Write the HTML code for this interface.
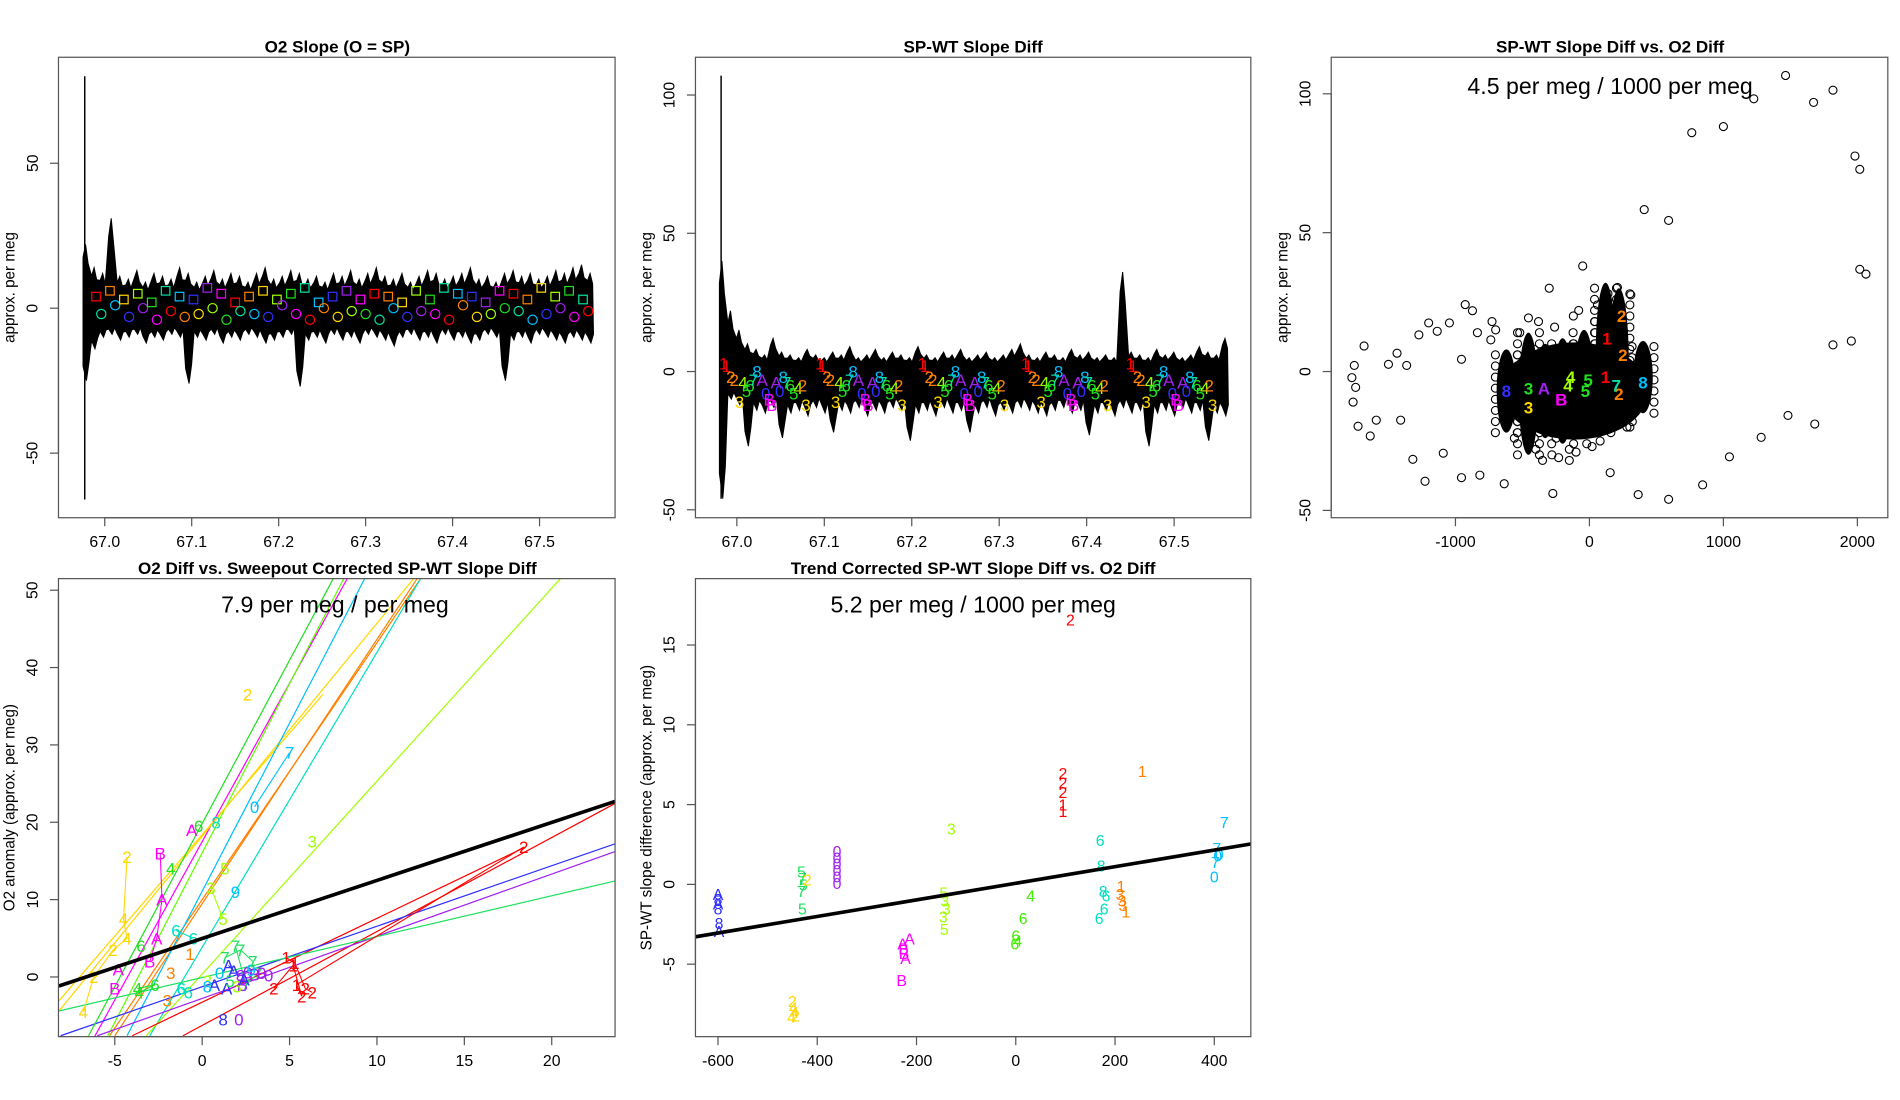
<!DOCTYPE html>
<html><head><meta charset="utf-8"><title>O2 slope diagnostics</title>
<style>
html,body{margin:0;padding:0;background:#fff;}
svg{display:block;font-family:"Liberation Sans",Arial,sans-serif;}
</style></head>
<body>
<svg id="fig" width="1900" height="1100" viewBox="0 0 1560 903" preserveAspectRatio="none" xmlns="http://www.w3.org/2000/svg">
<defs>
<clipPath id="c1"><rect x="48" y="47" width="457" height="378"/></clipPath>
<clipPath id="c2"><rect x="571" y="47" width="456" height="378"/></clipPath>
<clipPath id="c3"><rect x="1093" y="47" width="457" height="378"/></clipPath>
<clipPath id="c4"><rect x="48" y="475" width="457" height="376"/></clipPath>
<clipPath id="c5"><rect x="571" y="475" width="456" height="376"/></clipPath>
</defs>
</svg>
<script>
// ---------- data ----------
const rainbow = ['#ff0000','#ff8000','#ffd700','#a0ff00','#20e020','#00e0a0','#00c0ff','#3030ff','#a020f0','#ff00ff'];
const p1Upper = [22,14,12,31,11,10,13,9,12,11,10,14,12,9,11,13,10,12,11,9,12,14,10,11,13,12,10,11,9,12,11,13,10,12,14,11,10,12,9,11,13,12,10,11,12,14,10,11,9,12,13,11,12,10,11,13,12,14,15,12];
const p1Lower = [-25,-14,-10,-9,-11,-10,-9,-12,-10,-11,-9,-10,-26,-10,-11,-9,-12,-10,-11,-9,-10,-12,-11,-10,-9,-27,-11,-10,-12,-9,-11,-10,-12,-9,-10,-11,-13,-10,-9,-11,-10,-12,-9,-11,-10,-12,-11,-9,-10,-25,-11,-10,-12,-9,-10,-11,-12,-10,-11,-12];
const p1Spike = [80,-66];
const markT = [66.99,67.006,67.022,67.038,67.054,67.07,67.086,67.102,67.118,67.134,67.15,67.166,67.182,67.198,67.214,67.23,67.246,67.262,67.278,67.294,67.31,67.326,67.342,67.358,67.374,67.39,67.406,67.422,67.438,67.454,67.47,67.486,67.502,67.518,67.534,67.55];
const sqV = [4,6,3,5,2,6,4,3,7,5,2,4,6,3,5,7,2,4,6,3,5,4,2,6,3,7,5,4,2,6,5,3,7,4,6,3];
const circV = [-2,1,-3,0,-4,-1,-3,-2,0,-4,-1,-2,-3,1,-2,-4,0,-3,-1,-2,-4,0,-3,-1,-2,-4,1,-3,-2,0,-1,-4,-2,0,-3,-1];
const p2Upper = [40,22,15,10,8,6,12,7,6,5,8,6,5,7,6,9,5,6,8,5,7,6,5,9,6,5,7,6,8,5,6,7,5,6,8,10,6,5,7,6,5,8,6,7,5,6,5,36,7,6,5,8,6,7,5,6,9,7,6,12];
const p2Lower = [-46,-10,-12,-27,-14,-15,-13,-24,-15,-14,-16,-13,-15,-22,-14,-15,-13,-16,-14,-15,-13,-14,-25,-15,-14,-16,-13,-15,-14,-22,-15,-13,-16,-14,-15,-13,-14,-15,-16,-14,-13,-15,-14,-23,-15,-14,-16,-13,-15,-14,-27,-15,-14,-16,-13,-15,-14,-25,-15,-16];
const p2Spike = [107,-46];
const cycStart = [66.985,67.095,67.212,67.33,67.45];
const cycOff = [0.0,0.003,0.008,0.012,0.018,0.022,0.026,0.030,0.034,0.038,0.044,0.048,0.052,0.055,0.060,0.064,0.068,0.072,0.076,0.080,0.085,0.090,0.094];
const cycV = [3,2,-2,-3,-11,-4,-7,-5,-3,0,-3,-8,-10,-12,-4,-7,-2,-4,-5,-8,-6,-5,-12];
const cycTxt = ['1','1','2','2','3','4','5','6','7','8','A','0','B','B','A','0','8','7','6','5','4','2','3'];
const cycCol = [0,0,1,1,2,3,4,4,5,6,8,7,9,9,8,7,6,5,4,4,3,1,2];
const outX = [1464,1818,1673,1227,1000,764,1982,2018,409,591,209,309,-927,-873,-727,-836,-736,-455,-955,-1273,-1436,-1500,-1364,-1200,-1136,-1045,-1682,-1755,-1773,-1745,-1764,-1727,-1591,-1409,-1636,-1318,-1091,-1227,-955,-818,-636,-273,155,364,591,845,1045,1282,1482,1682,1818,1955,2018,2064,-300,-50,100,-700,-150];
const outY = [106.6,101.3,96.9,98.2,88.2,86,77.6,72.8,58.3,54.4,30.3,27.6,24.1,21.9,18,14,11.4,19.3,4.4,13.2,6.6,2.6,2.2,17.5,14.5,17.5,9.2,2.2,-2.2,-5.7,-11,-19.7,-17.5,-17.5,-23.2,-31.6,-29.4,-39.5,-38.2,-37.3,-40.4,-43.9,-36.4,-44.3,-46,-40.8,-30.7,-23.7,-15.8,-18.9,9.6,11,36.8,35.1,30,38,20,15,-32];
const colX = [-620,-455,-330,-200,-40,120,220,400];
const colLo = [-22,-30,-24,-26,-22,-18,-20,-15];
const colHi = [8,14,10,12,15,32,30,11];
const haloX = [-520,-380,-260,-120,-80,40,60,-560,-400,-280,-150,-20,80,160,280,-350,-230,-100,20,320];
const haloY = [14,18,16,20,22,18,24,-24,-28,-30,-28,-26,-25,-22,-20,-32,-31,-29,-27,-18];
const p3LabX = [-620,-455,-455,-340,-210,-160,-140,-30,-10,120,130,220,200,250,240,400];
const p3LabY = [-7,-6,-13,-6,-10,-5,-2,-7,-3,-2,12,-8,-5,6,20,-4];
const p3LabTxt = ['8','3','3','A','B','4','4','5','5','1','1','2','7','2','2','8'];
const p3LabCol = ['#3030ff','#20e020','#ffd700','#a020f0','#ff00ff','#a0ff00','#a0ff00','#20e020','#20e020','#ff0000','#ff0000','#ff8000','#00e0a0','#ff8000','#ff8000','#00c0ff'];
const l4X1 = [-6.3,-5.4,-8.2,-8.2,-5.3,-5.0,-4.3,-3.0,-3.2,-1.1,-4.0,-8.1,-6.0,-8.2,-6.5];
const l4Y1 = [-8.3,-7.6,-4.4,-3.1,-7.6,-7.6,-7.6,-7.6,-7.6,-7.6,-7.6,-7.6,-7.6,-4.4,-7.6];
const l4X2 = [8.3,8.1,12.1,6.9,12.5,12.3,9.3,12.5,20.5,23.6,18.5,23.6,23.6,23.6,7.5];
const l4Y2 = [51.5,51.5,51.5,36.5,51.5,51.5,51.5,51.5,51.5,22.4,16.8,17.2,16.2,12.4,51.5];
const l4Col = ['#ff00ff','#60ff00','#ffd700','#ffd700','#ff8000','#ff8000','#00c0ff','#00e0c0','#a0ff00','#ff0000','#ff0000','#3030ff','#a020f0','#20e060','#20e020'];
const lab4X = [-4.3,-4.5,-4.3,-5.1,-6.2,-6.8,-3.5,-3.0,-2.6,-2.3,-2.4,-1.8,-0.6,-0.2,0.8,1.3,1.9,2.6,3.0,5.0,4.1,5.2,5.7,5.4,18.4,6.3,-1.8,-3.7,-2.7,-3.6,-4.8,-1.5,-0.5,0.5,1.2,1.9,2.5,3.2,1.0,0.3,-1.2,-0.7,1.4,2.3,0.7,-2.0,1.2,2.1,-5.0,1.5,1.8,2.2,2.6,3.0,3.4,3.8,1.6,2.0,2.4,2.8,1.3,2.2,2.9,4.8,5.3,5.9,6.3,-1.2,-0.8,0.3];
const lab4Y = [15.5,7.5,5,3.5,0,-4.5,4.0,2.0,5.0,10.0,16.0,14.0,19.0,19.5,20.0,14.0,11.0,36.5,22.0,29.0,-1.5,1.5,-2.5,-1.0,16.8,17.5,0.5,-1.5,-1.0,-2.0,1.0,6.0,5.0,11.5,7.5,4.0,-1.0,0.5,0.5,-0.5,-1.5,3.0,-1.5,-1.0,-1.0,-3.0,-5.5,-5.5,-1.5,1.5,0.8,0.2,0.6,0.3,0.5,0.2,-0.5,-1.2,-0.3,0.9,2.5,3.5,2.0,2.5,1.8,-1.5,-2.0,-1.5,-2.0,-1.2];
const lab4Txt = ['2','4','4','2','2','4','6','B','A','A','B','4','A','6','8','5','9','2','0','7','2','1','2','1','2','3','3','4','6','4','A','6','6','3','5','7','7','7','0','3','6','1','A','B','A','3','8','0','B','A','A','8','0','B','0','0','5','3','A','9','7','7','7','1','1','2','2','6','6','8'];
const lab4Col = ['#ffd700','#ffd700','#ffd700','#ffd700','#ffd700','#ffd700','#20e020','#ff00ff','#ff00ff','#ff00ff','#ff00ff','#20e020','#ff00ff','#20e020','#00e0c0','#a0ff00','#00c0ff','#ffd700','#00c0ff','#00c0ff','#ff0000','#ff0000','#ff0000','#ff0000','#ff0000','#a0ff00','#ff8000','#20e020','#20e020','#20e020','#ff00ff','#00e0c0','#00e0c0','#a0ff00','#a0ff00','#20e060','#20e060','#20e060','#00c0ff','#a0ff00','#00e0c0','#ff8000','#3030ff','#a020f0','#3030ff','#ff8000','#3030ff','#a020f0','#ff00ff','#3030ff','#3030ff','#a020f0','#a020f0','#a020f0','#a020f0','#a020f0','#20e060','#a0ff00','#3030ff','#00c0ff','#20e060','#20e060','#20e060','#ff0000','#ff0000','#ff0000','#ff0000','#00e0c0','#00e0c0','#00c0ff'];
const fit4 = [0.75, 4.98];
const p5X = [-600,-600,-600,-600,-598,-598,-450,-448,-446,-452,-444,-432,-430,-428,-432,-430,-420,-360,-360,-360,-360,-360,-360,-228,-225,-222,-230,-226,-214,-145,-143,-140,-146,-144,-130,0,4,-2,15,30,95,95,95,95,95,110,255,212,210,214,216,222,170,172,176,182,178,168,405,407,402,400,420,410];
const p5Y = [-0.6,-0.9,-1.2,-1.5,-2.4,-2.9,-7.3,-7.7,-8.0,-8.3,-8.2,0.8,0.4,0.0,-0.4,-1.5,0.3,2.1,1.7,1.3,0.9,0.5,0.1,-3.7,-4.3,-4.6,-6.0,-4.0,-3.4,-0.5,-1.0,-1.5,-2.0,-2.8,3.5,-3.2,-3.5,-3.7,-2.1,-0.7,7.0,6.4,5.8,5.0,4.6,16.6,7.1,-0.1,-0.6,-1.0,-1.3,-1.7,2.8,1.2,-0.4,-0.7,-1.5,-2.1,2.3,1.8,1.4,0.5,3.9,1.9];
const p5Txt = ['A','8','A','8','8','A','2','4','4','4','2','5','7','5','7','5','2','0','0','0','0','0','0','A','B','A','B','B','A','5','3','3','3','5','3','6','4','6','6','4','2','2','2','1','1','2','1','1','3','3','3','1','6','8','8','6','6','6','7','0','7','0','7','0'];
const p5Col = ['#3030ff','#3030ff','#3030ff','#3030ff','#3030ff','#3030ff','#ffd700','#ffd700','#ffd700','#ffd700','#ffd700','#20e060','#20e060','#20e060','#20e060','#20e060','#ffd700','#a020f0','#a020f0','#a020f0','#a020f0','#a020f0','#a020f0','#ff00ff','#ff00ff','#ff00ff','#ff00ff','#ff00ff','#ff00ff','#a0ff00','#a0ff00','#a0ff00','#a0ff00','#a0ff00','#a0ff00','#40ee00','#40ee00','#40ee00','#40ee00','#40ee00','#ff0000','#ff0000','#ff0000','#ff0000','#ff0000','#ff0000','#ff8000','#ff8000','#ff8000','#ff8000','#ff8000','#ff8000','#00e0c0','#00e0c0','#00e0c0','#00e0c0','#00e0c0','#00e0c0','#00c0ff','#00c0ff','#00c0ff','#00c0ff','#00c0ff','#00c0ff'];
const fit5 = [0.0052, 0.07];

// ---------- helpers ----------
const NS = 'http://www.w3.org/2000/svg';
const svg = document.getElementById('fig');
function mk(tag, attrs, parent){ const e=document.createElementNS(NS,tag); for(const k in attrs) e.setAttribute(k,attrs[k]); (parent||svg).appendChild(e); return e; }
function txt(s, x, y, attrs, parent){ const e=mk('text',Object.assign({x:x,y:y},attrs),parent); e.textContent=s; return e; }
function grp(name, clip){ const g=mk('g', clip?{'clip-path':'url(#'+clip+')'}:{});
  
  
  return g; }
function frame(x,y,w,h,title,tx){
  const b=mk('rect',{x:x,y:y,width:w,height:h,fill:'none',stroke:'#555','stroke-width':1});
  
  
  const t=txt(title,tx,y-4,{'font-size':14,'font-weight':'bold','text-anchor':'middle'});
  
  
}
function xAxis(vals, labels, sx, yb){
  const g=grp('x-axis');
  mk('line',{x1:sx(vals[0]),x2:sx(vals[vals.length-1]),y1:yb,y2:yb,stroke:'#555'},g);
  vals.forEach((v,i)=>{ mk('line',{x1:sx(v),x2:sx(v),y1:yb,y2:yb+7,stroke:'#555'},g);
    const t=txt(labels[i],sx(v),yb+24,{'font-size':13,'text-anchor':'middle'},g);
    
     });
}
function yAxis(vals, labels, sy, xl){
  const g=grp('y-axis');
  mk('line',{x1:xl,x2:xl,y1:sy(vals[0]),y2:sy(vals[vals.length-1]),stroke:'#555'},g);
  vals.forEach((v,i)=>{ mk('line',{x1:xl,x2:xl-7,y1:sy(v),y2:sy(v),stroke:'#555'},g);
    const t=txt(labels[i],xl-17,sy(v),{'font-size':13,'text-anchor':'middle',transform:'rotate(-90 '+(xl-17)+' '+sy(v)+')'},g);
    
     });
}
function yTitle(s,x,y){ const t=txt(s,x,y,{'font-size':12.5,'text-anchor':'middle',transform:'rotate(-90 '+x+' '+y+')'});
  
   }
function band(upper, lower, t0, t1, sx, sy, g){
  const n=upper.length, st=(t1-t0)/n; let pts=[];
  upper.forEach((v,i)=>{ pts.push(sx(t0+st*i)+','+sy(v*0.8)); pts.push(sx(t0+st*(i+0.3))+','+sy(v)); pts.push(sx(t0+st*(i+0.6))+','+sy(v*0.7)); });
  for(let i=n-1;i>=0;i--){ pts.push(sx(t0+st*(i+0.7))+','+sy(lower[i]*0.75)); pts.push(sx(t0+st*(i+0.4))+','+sy(lower[i])); pts.push(sx(t0+st*i)+','+sy(lower[i]*0.8)); }
  const p=mk('polygon',{points:pts.join(' '),fill:'#000',stroke:'#000','stroke-width':0.8},g);
  
  
}

// ---------- panel 1 ----------
(function(){
  const sx=t=>86+(t-67)*714, sy=v=>253-v*2.38;
  const g=grp('panel-o2-slope','c1');
  band(p1Upper,p1Lower,66.975,67.565,sx,sy,g);
  const sp=mk('line',{x1:sx(66.977),x2:sx(66.977),y1:sy(p1Spike[0]),y2:sy(p1Spike[1]),stroke:'#000','stroke-width':1.2},g);
  
  
  markT.forEach((t,i)=>{
    const c=rainbow[i%10];
    const s=mk('rect',{x:sx(t)-3.5,y:sy(sqV[i])-3.5,width:7,height:7,fill:'none',stroke:c,'stroke-width':1},g);
    
    
    const c2=mk('circle',{cx:sx(t+0.006),cy:sy(circV[i]),r:3.8,fill:'none',stroke:rainbow[(i+5)%10],'stroke-width':1},g);
    
    
  });
  frame(48,47,457,378,'O2 Slope (O = SP)',277);
  xAxis([67.0,67.1,67.2,67.3,67.4,67.5],['67.0','67.1','67.2','67.3','67.4','67.5'],sx,425);
  yAxis([-50,0,50],['-50','0','50'],sy,48);
  yTitle('approx. per meg',12,236);
})();

// ---------- panel 2 ----------
(function(){
  const sx=t=>605+(t-67)*718, sy=v=>305-v*2.27;
  const g=grp('panel-spwt-slope-diff','c2');
  band(p2Upper,p2Lower,66.98,67.565,sx,sy,g);
  const sp=mk('line',{x1:sx(66.982),x2:sx(66.982),y1:sy(p2Spike[0]),y2:sy(p2Spike[1]),stroke:'#000','stroke-width':1.2},g);
  
  
  cycStart.forEach((c0,k)=>{
    cycOff.forEach((o,i)=>{
      const t=c0+o; if(t>67.565) return;
      const l=txt(cycTxt[i],sx(t),sy(cycV[i])+5,{'font-size':14,'text-anchor':'middle',fill:rainbow[cycCol[i]]},g);
      
      
    });
  });
  frame(571,47,456,378,'SP-WT Slope Diff',799);
  xAxis([67.0,67.1,67.2,67.3,67.4,67.5],['67.0','67.1','67.2','67.3','67.4','67.5'],sx,425);
  yAxis([-50,0,50,100],['-50','0','50','100'],sy,571);
  yTitle('approx. per meg',535,236);
})();

// ---------- panel 3 ----------
(function(){
  const sx=x=>1305+x*0.11, sy=y=>305-y*2.28;
  const g=grp('panel-scatter-vs-o2','c3');
  const hb=mk('ellipse',{cx:sx(-110),cy:sy(-7),rx:(sx(440)-sx(-660))/2,ry:(sy(-24)-sy(11))/2,fill:'#000'},g);
  
  
  colX.forEach((x,i)=>{
    const r=mk('ellipse',{cx:sx(x),cy:(sy(colHi[i])+sy(colLo[i]))/2,rx:8,ry:(sy(colLo[i])-sy(colHi[i]))/2,fill:'#000'},g);
    
    
    for(let y=colLo[i]; y<=colHi[i]; y+=4){
      [-9,9].forEach(d=>{ const c=mk('circle',{cx:sx(x)+d,cy:sy(y),r:3.3,fill:'none',stroke:'#000','stroke-width':0.9},g);
        
         });
    }
  });
  haloX.forEach((x,i)=>{ const c=mk('circle',{cx:sx(x),cy:sy(haloY[i]),r:3.3,fill:'none',stroke:'#000','stroke-width':0.9},g);
    
     });
  outX.forEach((x,i)=>{ const c=mk('circle',{cx:sx(x),cy:sy(outY[i]),r:3.3,fill:'none',stroke:'#000','stroke-width':0.9},g);
    
     });
  p3LabX.forEach((x,i)=>{ const l=txt(p3LabTxt[i],sx(x),sy(p3LabY[i])+5,{'font-size':14,'text-anchor':'middle',fill:p3LabCol[i],'font-weight':'bold'},g);
    
     });
  const a=txt('4.5 per meg / 1000 per meg',1322,77,{'font-size':19,'text-anchor':'middle'});
  
  
  frame(1093,47,457,378,'SP-WT Slope Diff vs. O2 Diff',1322);
  xAxis([-1000,0,1000,2000],['-1000','0','1000','2000'],sx,425);
  yAxis([-50,0,50,100],['-50','0','50','100'],sy,1093);
  yTitle('approx. per meg',1057,236);
})();

// ---------- panel 4 ----------
(function(){
  const sx=x=>166+x*14.35, sy=y=>802-y*6.35;
  const g=grp('panel-o2-vs-corrected','c4');
  l4X1.forEach((x,i)=>{ const l=mk('line',{x1:sx(x),y1:sy(l4Y1[i]),x2:sx(l4X2[i]),y2:sy(l4Y2[i]),stroke:l4Col[i],'stroke-width':1},g);
    
     });
  for(let i=1;i<lab4X.length;i++){ if(lab4Col[i]===lab4Col[i-1]){ const l=mk('line',{x1:sx(lab4X[i-1]),y1:sy(lab4Y[i-1]),x2:sx(lab4X[i]),y2:sy(lab4Y[i]),stroke:lab4Col[i],'stroke-width':0.9},g);
    
     } }
  lab4X.forEach((x,i)=>{ const l=txt(lab4Txt[i],sx(x),sy(lab4Y[i])+5,{'font-size':14,'text-anchor':'middle',fill:lab4Col[i]},g);
    
     });
  const f=mk('line',{x1:sx(-8.2),y1:sy(fit4[0]*-8.2+fit4[1]),x2:sx(24),y2:sy(fit4[0]*24+fit4[1]),stroke:'#000','stroke-width':3},g);
  
  
  const a=txt('7.9 per meg / per meg',275,503,{'font-size':19,'text-anchor':'middle'});
  
  
  frame(48,475,457,376,'O2 Diff vs. Sweepout Corrected SP-WT Slope Diff',277);
  xAxis([-5,0,5,10,15,20],['-5','0','5','10','15','20'],sx,851);
  yAxis([0,10,20,30,40,50],['0','10','20','30','40','50'],sy,48);
  yTitle('O2 anomaly (approx. per meg)',12,663);
})();

// ---------- panel 5 ----------
(function(){
  const sx=x=>834+x*0.4075, sy=y=>726-y*13.1;
  const g=grp('panel-trend-corrected','c5');
  p5X.forEach((x,i)=>{ const l=txt(p5Txt[i],sx(x),sy(p5Y[i])+5,{'font-size':13,'text-anchor':'middle',fill:p5Col[i]},g);
    
     });
  const f=mk('line',{x1:sx(-650),y1:sy(fit5[0]*-650+fit5[1]),x2:sx(480),y2:sy(fit5[0]*480+fit5[1]),stroke:'#000','stroke-width':3},g);
  
  
  const a=txt('5.2 per meg / 1000 per meg',799,503,{'font-size':19,'text-anchor':'middle'});
  
  
  frame(571,475,456,376,'Trend Corrected SP-WT Slope Diff vs. O2 Diff',799);
  xAxis([-600,-400,-200,0,200,400],['-600','-400','-200','0','200','400'],sx,851);
  yAxis([-5,0,5,10,15],['-5','0','5','10','15'],sy,571);
  yTitle('SP-WT slope difference (approx. per meg)',535,663);
})();
</script>
</body></html>
